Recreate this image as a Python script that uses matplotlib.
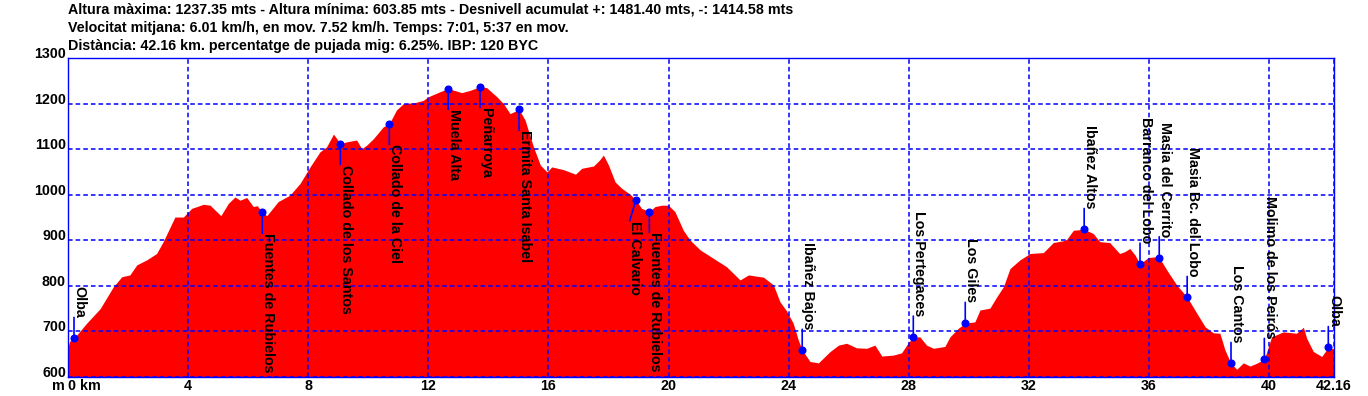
import matplotlib
matplotlib.use('Agg')
from matplotlib import pyplot as plt

plt.rcParams['font.family'] = ['Liberation Sans', 'DejaVu Sans']
plt.rcParams['font.weight'] = 'bold'

# perfil: distancia (km) i altura (m)
dist_km = [0.0, 0.05, 0.2, 0.62, 1.07, 1.51, 1.79, 2.06, 2.29, 2.62, 2.95, 3.17, 3.56, 3.84,
           4.12, 4.51, 4.73, 5.09, 5.34, 5.56, 5.73, 5.95, 6.17, 6.3, 6.47, 6.62, 7.0, 7.39,
           7.73, 8.06, 8.39, 8.61, 8.84, 8.95, 9.07, 9.28, 9.61, 9.78, 9.95, 10.17, 10.5, 10.7,
           10.94, 11.17, 11.55, 11.83, 12.0, 12.39, 12.66, 13.11, 13.39, 13.72, 13.94, 14.28,
           14.5, 14.72, 15.02, 15.22, 15.5, 15.73, 15.95, 16.11, 16.5, 16.9, 17.11, 17.5, 17.7,
           17.83, 18.0, 18.22, 18.44, 18.72, 18.91, 19.1, 19.36, 19.55, 19.77, 19.99, 20.21,
           20.49, 20.72, 21.05, 21.5, 21.93, 22.38, 22.66, 23.16, 23.49, 23.71, 23.93, 24.15,
           24.32, 24.45, 24.71, 24.99, 25.38, 25.66, 25.93, 26.26, 26.6, 26.87, 27.1, 27.48,
           27.76, 27.97, 28.15, 28.37, 28.59, 28.82, 29.2, 29.37, 29.65, 29.88, 30.2, 30.37,
           30.7, 30.93, 31.15, 31.37, 31.7, 32.04, 32.48, 32.81, 33.14, 33.26, 33.48, 33.84,
           34.14, 34.36, 34.69, 35.02, 35.19, 35.36, 35.53, 35.7, 35.97, 36.25, 36.34, 36.59,
           36.92, 37.27, 37.59, 37.87, 38.14, 38.36, 38.53, 38.73, 38.92, 39.14, 39.36, 39.58,
           39.84, 40.08, 40.47, 40.91, 41.14, 41.25, 41.47, 41.75, 41.97, 42.16]
altura_m = [665, 678, 685, 718, 750, 798, 820, 824, 846, 857, 871, 897, 951, 951,
            970, 979, 977, 954, 981, 995, 988, 994, 974, 976, 961, 954, 985, 999,
            1025, 1061, 1094, 1105, 1133, 1123, 1112, 1116, 1120, 1101, 1109, 1123, 1149, 1156,
            1186, 1200, 1202, 1207, 1215, 1226, 1233, 1224, 1229, 1237, 1235, 1215,
            1200, 1178, 1187, 1164, 1105, 1065, 1050, 1061, 1055, 1045, 1058, 1063, 1076,
            1087, 1065, 1028, 1014, 1001, 988, 970, 963, 974, 977, 977, 963,
            922, 900, 879, 860, 842, 813, 824, 819, 802, 765, 745, 718,
            681, 659, 634, 631, 656, 670, 674, 664, 663, 670, 646, 648,
            653, 674, 688, 688, 670, 663, 667, 688, 707, 718, 721, 747,
            751, 776, 798, 838, 857, 871, 873, 895, 899, 902, 922, 924,
            915, 897, 895, 871, 875, 882, 868, 848, 862, 864, 862, 835,
            802, 775, 740, 710, 697, 696, 659, 630, 617, 631, 624, 630,
            639, 688, 699, 696, 709, 685, 656, 645, 665, 661]

# punts de pas
wp_noms = ['Olba', 'Fuentes de Rubielos', 'Collado de los Santos', 'Collado de la Ciel',
           'Muela Alta', 'Peñarroya', 'Ermita Santa Isabel', 'El Calvario',
           'Fuentes de Rubielos', 'Ibañez Bajos', 'Los Pertegaces', 'Los Giles',
           'Ibañez Altos', 'Barranco del Lobo', 'Masia del Cerrito', 'Masia Bc. del Lobo',
           'Los Cantos', 'Molimo de los Peirós', 'Olba']
wp_km = [0.2, 6.47, 9.07, 10.7, 12.66, 13.72, 15.02, 18.91, 19.36, 24.45, 28.15, 29.88,
         33.84, 35.7, 36.34, 37.27, 38.73, 39.84, 41.97]
wp_alt = [685, 961, 1112, 1156, 1233, 1237, 1187, 988, 963, 659, 688, 718,
          924, 848, 862, 775, 630, 639, 665]
wp_amunt = [True, False, False, False, False, False, False, False, False, True, True, True,
            True, True, True, True, True, True, True]

titol = ['Altura màxima: 1237.35 mts - Altura mínima: 603.85 mts - Desnivell acumulat +: 1481.40 mts, -: 1414.58 mts',
         'Velocitat mitjana: 6.01 km/h, en mov. 7.52 km/h. Temps: 7:01, 5:37 en mov.',
         'Distància: 42.16 km. percentatge de pujada mig: 6.25%. IBP: 120 BYC']

x_ticks = [0, 4, 8, 12, 16, 20, 24, 28, 32, 36, 40, 42.16]
x_labels = ['0 km', '4', '8', '12', '16', '20', '24', '28', '32', '36', '40', '42.16']
y_ticks = [600, 700, 800, 900, 1000, 1100, 1200, 1300]

blau = '#0000FF'
fs = 10.3
fig = plt.figure(figsize=(13.68, 3.96), dpi=100)
ax = fig.add_axes([68 / 1368, 19 / 396, 1266 / 1368, 319 / 396])

ax.fill_between(dist_km, altura_m, 600, color='#FF0000', lw=0, zorder=1)
ax.set_xlim(0, 42.16)
ax.set_ylim(600, 1300)

ax.set_xticks(x_ticks, x_labels)
ax.set_yticks(y_ticks)
ax.tick_params(length=0, labelsize=fs, pad=1.5)
ax.get_xticklabels()[0].set_ha('left')
plt.setp(ax.get_yticklabels(), va='baseline')
ax.grid(True, color=blau, linestyle=(0, (3, 2)), linewidth=1.1, zorder=2)
ax.set_axisbelow(False)
for s in ax.spines.values():
    s.set_color(blau)
    s.set_linewidth(1.0)

fig.text(58 / 1368, 1 - 386 / 396, 'm', ha='center', va='center', fontsize=fs)

for i, t in enumerate(titol):
    fig.text(68 / 1368, 1 - (10 + 18 * i) / 396, t, ha='left', va='center', fontsize=fs)

# marcadors amb el nom (El Calvario es desplaça a l'esquerra)
for nom, k, a, amunt in zip(wp_noms, wp_km, wp_alt, wp_amunt):
    dy = 15 if amunt else -15
    dx = -4.5 if nom == 'El Calvario' else 0
    ax.annotate('', xy=(k, a), xytext=(dx, dy), textcoords='offset points',
                arrowprops=dict(arrowstyle='-', color=blau, lw=1.2, shrinkA=0, shrinkB=0), zorder=4)
    ax.plot(k, a, 'o', color=blau, ms=4.8, zorder=5)
    ax.annotate(nom, xy=(k, a), xytext=(dx - 1, dy), textcoords='offset points', rotation=270,
                ha='left', va='bottom' if amunt else 'top', fontsize=fs, zorder=6,
                annotation_clip=False)

plt.savefig('out.png', dpi=100)
